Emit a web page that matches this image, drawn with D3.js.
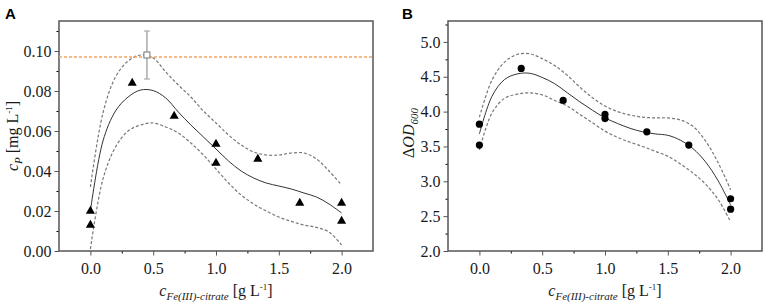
<!DOCTYPE html>
<html>
<head>
<meta charset="utf-8">
<script src="https://cdn.jsdelivr.net/npm/d3@7"></script>
<style>
  body { margin: 0; background: #fff; }
  svg { display: block; }
</style>
</head>
<body>
<div id="chart"></div>
<script>
// measured points, panel A (product concentration)
const ptsAx = [0, 0, 0.333, 0.667, 1.0, 1.0, 1.333, 1.667, 2.0, 2.0];
const ptsAy = [0.020, 0.013, 0.084, 0.0675, 0.0535, 0.044, 0.046, 0.024, 0.024, 0.015];
// optimum point with error bar, and reference line
const optA = {x: 0.45, y: 0.098, lo: 0.086, hi: 0.110};
const refLineA = 0.097;

// fit curve and confidence band, panel A
const fitX = [0, 0.1, 0.2, 0.3, 0.4, 0.5, 0.6, 0.7, 0.8, 0.9, 1.0, 1.1, 1.2, 1.3, 1.4, 1.5, 1.6, 1.7, 1.8, 1.9, 2.0];
const fitA   = [0.020, 0.055, 0.070, 0.077, 0.0805, 0.0802, 0.0765, 0.0695, 0.063, 0.057, 0.051, 0.045, 0.040, 0.0365, 0.034, 0.0325, 0.031, 0.029, 0.027, 0.0235, 0.019];
const upperA = [0.032, 0.069, 0.087, 0.095, 0.098, 0.0965, 0.0895, 0.083, 0.077, 0.070, 0.064, 0.058, 0.053, 0.0495, 0.048, 0.048, 0.049, 0.049, 0.046, 0.040, 0.033];
const lowerA = [0.001, 0.036, 0.052, 0.060, 0.063, 0.064, 0.062, 0.059, 0.054, 0.048, 0.041, 0.034, 0.028, 0.0235, 0.020, 0.017, 0.0148, 0.013, 0.0118, 0.0095, 0.003];

// measured points, panel B (delta OD600)
const ptsBx = [0, 0, 0.333, 0.667, 1.0, 1.0, 1.333, 1.667, 2.0, 2.0];
const ptsBy = [3.82, 3.52, 4.62, 4.16, 3.96, 3.90, 3.71, 3.52, 2.75, 2.60];
const fitB   = [3.68, 4.22, 4.46, 4.54, 4.55, 4.49, 4.40, 4.27, 4.14, 4.02, 3.91, 3.83, 3.76, 3.71, 3.68, 3.66, 3.59, 3.47, 3.28, 3.01, 2.66];
const upperB = [3.92, 4.45, 4.71, 4.82, 4.83, 4.76, 4.66, 4.52, 4.35, 4.20, 4.08, 4.00, 3.95, 3.92, 3.91, 3.91, 3.88, 3.79, 3.58, 3.27, 2.88];
const lowerB = [3.45, 3.98, 4.19, 4.25, 4.27, 4.24, 4.16, 4.08, 3.96, 3.84, 3.72, 3.63, 3.56, 3.50, 3.43, 3.36, 3.25, 3.12, 2.96, 2.74, 2.42];

const xMajor = [0, 0.5, 1.0, 1.5, 2.0];
const xMinor = [0.25, 0.75, 1.25, 1.75];
const yMajorA = [0, 0.02, 0.04, 0.06, 0.08, 0.10];
const yMinorA = [0.01, 0.03, 0.05, 0.07, 0.09, 0.11];
const yMajorB = [2.0, 2.5, 3.0, 3.5, 4.0, 4.5, 5.0];
const yMinorB = [2.25, 2.75, 3.25, 3.75, 4.25, 4.75, 5.25];

const W = 765, H = 307;
const serif = "Liberation Serif";

const svg = d3.select("#chart").append("svg")
  .attr("width", W)
  .attr("height", H);

function drawPanel(opt) {
  const x = d3.scaleLinear().domain([-0.25, 2.25]).range([opt.left, opt.right]);
  const y = d3.scaleLinear().domain(opt.yDomain).range([opt.bottom, opt.top]);

  // minor ticks
  svg.append("g")
    .attr("transform", `translate(0,${opt.bottom})`)
    .call(d3.axisBottom(x).tickValues(xMinor).tickSize(2.5).tickFormat(""))
    .call(g => g.select(".domain").remove());
  svg.append("g")
    .attr("transform", `translate(${opt.left},0)`)
    .call(d3.axisLeft(y).tickValues(opt.yMinor).tickSize(2.5).tickFormat(""))
    .call(g => g.select(".domain").remove());

  // major ticks
  const xa = svg.append("g")
    .attr("transform", `translate(0,${opt.bottom})`)
    .call(d3.axisBottom(x).tickValues(xMajor).tickSize(4.5).tickSizeOuter(0).tickPadding(7)
      .tickFormat(d3.format(".1f")));
  const ya = svg.append("g")
    .attr("transform", `translate(${opt.left},0)`)
    .call(d3.axisLeft(y).tickValues(opt.yMajor).tickSize(4.5).tickSizeOuter(0).tickPadding(3)
      .tickFormat(d3.format(opt.fmt)));
  [xa, ya].forEach(g => {
    g.attr("font-family", serif).attr("font-size", 16);
    g.selectAll("text").attr("fill", "#1a1a1a");
    g.selectAll(".tick line").attr("stroke", "#555");
    g.select(".domain").remove();
  });

  // frame
  svg.append("rect")
    .attr("x", opt.left)
    .attr("y", opt.top)
    .attr("width", opt.right - opt.left)
    .attr("height", opt.bottom - opt.top)
    .style("fill", "none")
    .style("stroke", "#555")
    .style("stroke-width", 1.5);

  const line = (ys) => d3.line()
    .x((d, i) => x(fitX[i]))
    .y(d => y(d))
    .curve(d3.curveCatmullRom.alpha(0.5))(ys);

  svg.append("path")
    .attr("d", line(opt.upper))
    .style("fill", "none")
    .style("stroke", "#777")
    .style("stroke-width", 1.2)
    .style("stroke-dasharray", "3,2");
  svg.append("path")
    .attr("d", line(opt.lower))
    .style("fill", "none")
    .style("stroke", "#777")
    .style("stroke-width", 1.2)
    .style("stroke-dasharray", "3,2");
  svg.append("path")
    .attr("d", line(opt.fit))
    .style("fill", "none")
    .style("stroke", "#333")
    .style("stroke-width", 1);

  return {x, y};
}

// ---- panel A
const A = drawPanel({
  left: 59, right: 373, top: 21, bottom: 251,
  yDomain: [0, 0.115], yMajor: yMajorA, yMinor: yMinorA, fmt: ".2f",
  fit: fitA, upper: upperA, lower: lowerA
});

svg.append("line")
  .attr("x1", A.x(-0.25)).attr("x2", A.x(2.25))
  .attr("y1", A.y(refLineA)).attr("y2", A.y(refLineA))
  .style("stroke", "#f4a460")
  .style("stroke-width", 1.5)
  .style("stroke-dasharray", "3,2");

// error bar on the optimum
svg.append("line")
  .attr("x1", A.x(optA.x)).attr("x2", A.x(optA.x))
  .attr("y1", A.y(optA.lo)).attr("y2", A.y(optA.hi))
  .style("stroke", "#aaa").style("stroke-width", 1.5);
[optA.lo, optA.hi].forEach(v => {
  svg.append("line")
    .attr("x1", A.x(optA.x) - 3).attr("x2", A.x(optA.x) + 3)
    .attr("y1", A.y(v)).attr("y2", A.y(v))
    .style("stroke", "#aaa").style("stroke-width", 1.2);
});
svg.append("rect")
  .attr("x", A.x(optA.x) - 3).attr("y", A.y(optA.y) - 3)
  .attr("width", 6).attr("height", 6)
  .style("fill", "#fff").style("stroke", "#777").style("stroke-width", 1);

svg.selectAll(".triA")
  .data(ptsAx.map((v, i) => [v, ptsAy[i]]))
  .join("path")
    .attr("class", "triA")
    .attr("transform", d => `translate(${A.x(d[0])},${A.y(d[1])})`)
    .attr("d", d3.symbol(d3.symbolTriangle, 36)())
    .style("fill", "#000");

// ---- panel B
const B = drawPanel({
  left: 448, right: 762, top: 21, bottom: 251,
  yDomain: [2.0, 5.3], yMajor: yMajorB, yMinor: yMinorB, fmt: ".1f",
  fit: fitB, upper: upperB, lower: lowerB
});

svg.selectAll(".dotB")
  .data(ptsBx.map((v, i) => [v, ptsBy[i]]))
  .join("circle")
    .attr("class", "dotB")
    .attr("cx", d => B.x(d[0]))
    .attr("cy", d => B.y(d[1]))
    .attr("r", 3.6)
    .style("fill", "#000");

// ---- axis titles
function xTitle(cx) {
  const t = svg.append("text")
    .attr("x", cx).attr("y", 296)
    .attr("text-anchor", "middle")
    .attr("font-family", serif)
    .attr("font-size", 16)
    .attr("fill", "#1a1a1a");
  t.append("tspan").style("font-style", "italic").text("c");
  t.append("tspan").attr("dy", 4).style("font-style", "italic").attr("font-size", 11).text("Fe(III)-citrate");
  t.append("tspan").attr("dy", -4).text(" [g L");
  t.append("tspan").attr("dy", -6).attr("font-size", 9).text("-1");
  t.append("tspan").attr("dy", 6).text("]");
}
xTitle((59 + 373) / 2);
xTitle((448 + 762) / 2);

const ytA = svg.append("text")
  .attr("transform", `translate(18,136) rotate(-90)`)
  .attr("text-anchor", "middle")
  .attr("font-family", serif)
  .attr("font-size", 16)
  .attr("fill", "#1a1a1a");
ytA.append("tspan").style("font-style", "italic").text("c");
ytA.append("tspan").attr("dy", 4).style("font-style", "italic").attr("font-size", 11).text("P");
ytA.append("tspan").attr("dy", -4).text(" [mg L");
ytA.append("tspan").attr("dy", -6).attr("font-size", 9).text("-1");
ytA.append("tspan").attr("dy", 6).text("]");

const ytB = svg.append("text")
  .attr("transform", `translate(414,133) rotate(-90)`)
  .attr("text-anchor", "middle")
  .attr("font-family", serif)
  .attr("font-size", 16)
  .attr("fill", "#1a1a1a");
ytB.append("tspan").text("Δ");
ytB.append("tspan").style("font-style", "italic").text("OD");
ytB.append("tspan").attr("dy", 4).style("font-style", "italic").attr("font-size", 11).text("600");

// panel letters
svg.append("text").attr("x", 5).attr("y", 19)
  .attr("font-family", "Liberation Sans")
  .attr("font-weight", "bold").attr("font-size", 15).text("A");
svg.append("text").attr("x", 402).attr("y", 19)
  .attr("font-family", "Liberation Sans")
  .attr("font-weight", "bold").attr("font-size", 15).text("B");
</script>
</body>
</html>
